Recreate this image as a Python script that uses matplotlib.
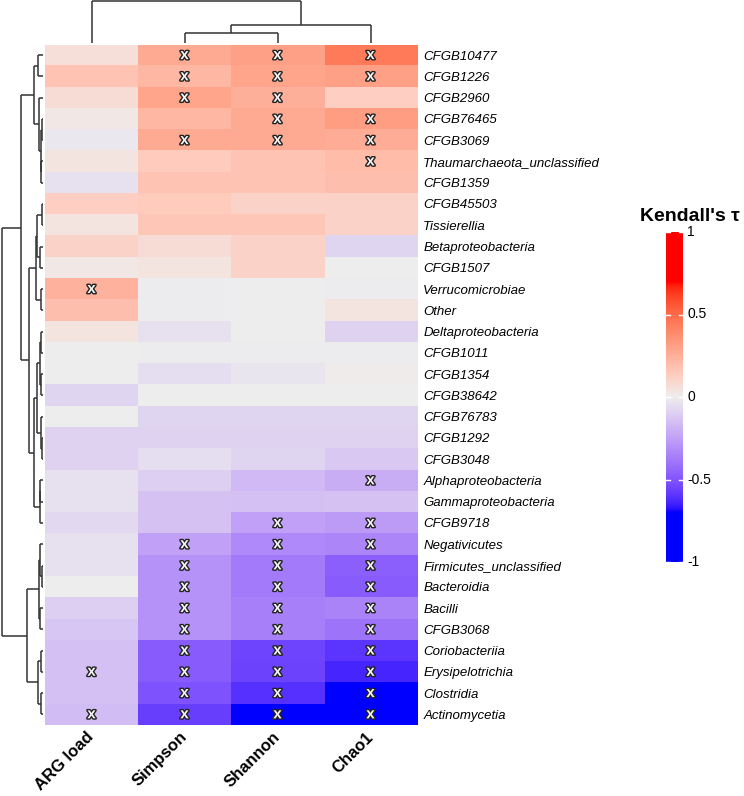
import numpy as np
import matplotlib
matplotlib.use("Agg")
import matplotlib.pyplot as plt
import matplotlib.patheffects as pe
from matplotlib.colors import ListedColormap, Normalize

plt.rcParams['font.family'] = ['Liberation Sans', 'DejaVu Sans']

# ---- data (rows in the drawn, clustered order) ----
taxa = ['CFGB10477', 'CFGB1226', 'CFGB2960', 'CFGB76465', 'CFGB3069',
        'Thaumarchaeota_unclassified', 'CFGB1359', 'CFGB45503', 'Tissierellia',
        'Betaproteobacteria', 'CFGB1507', 'Verrucomicrobiae', 'Other',
        'Deltaproteobacteria', 'CFGB1011', 'CFGB1354', 'CFGB38642', 'CFGB76783',
        'CFGB1292', 'CFGB3048', 'Alphaproteobacteria', 'Gammaproteobacteria',
        'CFGB9718', 'Negativicutes', 'Firmicutes_unclassified', 'Bacteroidia',
        'Bacilli', 'CFGB3068', 'Coriobacteriia', 'Erysipelotrichia',
        'Clostridia', 'Actinomycetia']
metrics = ['ARG load', 'Simpson', 'Shannon', 'Chao1']

arg_load = [0.06, 0.17, 0.07, 0.02, -0.02, 0.04, -0.04, 0.13, 0.04, 0.11, 0.02,
            0.24, 0.19, 0.04, 0.00, 0.00, -0.08, 0.00, -0.09, -0.09, -0.04, -0.04,
            -0.07, -0.04, -0.04, 0.00, -0.10, -0.13, -0.15, -0.15, -0.15, -0.16]
simpson = [0.27, 0.22, 0.29, 0.22, 0.27, 0.14, 0.17, 0.14, 0.16, 0.07, 0.04,
           -0.01, -0.01, -0.04, -0.01, -0.05, 0.00, -0.08, -0.09, -0.05, -0.10, -0.14,
           -0.14, -0.25, -0.30, -0.30, -0.30, -0.30, -0.48, -0.48, -0.51, -0.57]
shannon = [0.31, 0.29, 0.25, 0.27, 0.27, 0.17, 0.17, 0.11, 0.16, 0.11, 0.11,
           0.00, 0.00, 0.00, -0.01, -0.03, 0.00, -0.08, -0.09, -0.08, -0.17, -0.15,
           -0.25, -0.33, -0.38, -0.38, -0.36, -0.36, -0.55, -0.56, -0.61, -0.72]
chao1 = [0.45, 0.31, 0.13, 0.32, 0.26, 0.20, 0.19, 0.11, 0.11, -0.08, 0.00,
         -0.01, 0.04, -0.09, -0.01, 0.01, 0.00, -0.08, -0.09, -0.12, -0.21, -0.14,
         -0.27, -0.34, -0.47, -0.48, -0.35, -0.40, -0.60, -0.64, -0.72, -0.72]

# rows with a significant correlation, per metric
sig_arg = [11, 29, 31]
sig_simpson = [0, 1, 2, 4, 23, 24, 25, 26, 27, 28, 29, 30, 31]
sig_shannon = [0, 1, 2, 3, 4, 22, 23, 24, 25, 26, 27, 28, 29, 30, 31]
sig_chao1 = [0, 1, 3, 4, 5, 20, 22, 23, 24, 25, 26, 27, 28, 29, 30, 31]

# hierarchical clustering merges: [child a, child b, height]; ids >= n are earlier merges
row_merges = [[0, 1, 5], [3, 4, 1.3], [5, 6, 2], [33, 34, 2.3], [2, 35, 4],
              [32, 36, 9], [7, 8, 1], [9, 10, 3], [38, 39, 6], [11, 12, 2.3],
              [40, 41, 7], [13, 14, 2.3], [15, 16, 2], [43, 44, 3], [18, 19, 1.3],
              [17, 46, 2.3], [45, 47, 6], [20, 21, 3], [49, 22, 3.5], [48, 50, 9],
              [42, 51, 14], [37, 52, 22], [24, 25, 1.3], [23, 54, 3], [26, 27, 3],
              [55, 56, 4], [28, 29, 2], [30, 31, 2], [58, 59, 5.5], [57, 60, 16],
              [53, 61, 41]]
col_merges = [[1, 2, 10], [4, 3, 18], [0, 5, 42]]

values = np.array([arg_load, simpson, shannon, chao1]).T
sig = [sig_arg, sig_simpson, sig_shannon, sig_chao1]
n_rows, n_cols = values.shape


# ---- colour ramp blue - #EEEEEE - red interpolated in LAB (like colorRamp2) ----
M = np.array([[0.4124564, 0.3575761, 0.1804375],
              [0.2126729, 0.7151522, 0.0721750],
              [0.0193339, 0.1191920, 0.9503041]])
WHITE = np.array([0.95047, 1.0, 1.08883])


def srgb_to_lab(rgb):
    rgb = np.asarray(rgb, float)
    lin = np.where(rgb <= 0.04045, rgb / 12.92, ((rgb + 0.055) / 1.055) ** 2.4)
    xyz = lin @ M.T / WHITE
    f = np.where(xyz > 0.008856, np.cbrt(xyz), 7.787 * xyz + 16 / 116)
    return np.stack([116 * f[..., 1] - 16, 500 * (f[..., 0] - f[..., 1]),
                     200 * (f[..., 1] - f[..., 2])], -1)


def lab_to_srgb(lab):
    fy = (lab[..., 0] + 16) / 116
    fx = fy + lab[..., 1] / 500
    fz = fy - lab[..., 2] / 200
    f = np.stack([fx, fy, fz], -1)
    xyz = np.where(f ** 3 > 0.008856, f ** 3, (f - 16 / 116) / 7.787) * WHITE
    lin = np.clip(xyz @ np.linalg.inv(M).T, 0, 1)
    rgb = np.where(lin <= 0.0031308, 12.92 * lin, 1.055 * lin ** (1 / 2.4) - 0.055)
    return np.clip(rgb, 0, 1)


lab_blue = srgb_to_lab([0, 0, 1])
lab_mid = srgb_to_lab([0xEE / 255] * 3)
lab_red = srgb_to_lab([1, 0, 0])
tt = np.linspace(-1, 1, 512)[:, None]
lab = np.where(tt < 0, lab_mid + (-tt) * (lab_blue - lab_mid), lab_mid + tt * (lab_red - lab_mid))
cmap = ListedColormap(lab_to_srgb(lab))
norm = Normalize(vmin=-0.7, vmax=0.7)

# ---- figure ----
W, H = 744, 796
fig = plt.figure(figsize=(W / 100, H / 100), dpi=100)


def px_axes(x0, y0, x1, y1):
    return fig.add_axes([x0 / W, 1 - y1 / H, (x1 - x0) / W, (y1 - y0) / H])


HX0, HY0, HX1, HY1 = 45, 44.5, 417, 725

# heatmap
ax = px_axes(HX0, HY0, HX1, HY1)
ax.imshow(values, cmap=cmap, norm=norm, aspect='auto', interpolation='nearest')
for j in range(n_cols):
    for i in sig[j]:
        ax.text(j, i, 'x', ha='center', va='center', fontsize=11, fontweight='bold',
                color='#f4f4f4',
                path_effects=[pe.withStroke(linewidth=2.0, foreground='#222222')])
ax.yaxis.tick_right()
ax.set_yticks(range(n_rows))
ax.set_yticklabels(taxa, fontsize=9.5, style='italic')
ax.set_xticks(range(n_cols))
ax.set_xticklabels(metrics, fontsize=12, fontweight='bold')
plt.setp(ax.get_xticklabels(), rotation=45, ha='right', va='center', rotation_mode='anchor')
ax.tick_params(length=0, pad=4.5)
ax.tick_params(axis='x', pad=7)
for s in ax.spines.values():
    s.set_visible(False)


def draw_dendro(axis, merges, n, orient):
    pos = {i: float(i) for i in range(n)}
    hgt = {i: 0.0 for i in range(n)}
    kw = dict(color='#333333', lw=1.1, solid_capstyle='butt')
    for k, (a, b, h) in enumerate(merges):
        node = n + k
        for c in (a, b):
            if orient == 'left':
                axis.plot([hgt[c], h], [pos[c], pos[c]], **kw)
            else:
                axis.plot([pos[c], pos[c]], [hgt[c], h], **kw)
        if orient == 'left':
            axis.plot([h, h], [pos[a], pos[b]], **kw)
        else:
            axis.plot([pos[a], pos[b]], [h, h], **kw)
        pos[node] = (pos[a] + pos[b]) / 2
        hgt[node] = h
    axis.axis('off')


# row dendrogram (left)
axr = px_axes(0, HY0, HX0, HY1)
draw_dendro(axr, row_merges, n_rows, 'left')
axr.set_xlim(43, -2)
axr.set_ylim(n_rows - 0.5, -0.5)

# column dendrogram (top)
axc = px_axes(HX0, 0, HX1, HY0)
draw_dendro(axc, col_merges, n_cols, 'top')
axc.set_xlim(-0.5, n_cols - 0.5)
axc.set_ylim(-1.5, 43.5)

# colour legend
axl = px_axes(666, 232, 683, 562)
grad = np.linspace(1, -1, 400)[:, None]
axl.imshow(grad, cmap=cmap, norm=norm, aspect='auto', extent=[0, 1, -1, 1])
legend_ticks = [1, 0.5, 0, -0.5, -1]
for t in legend_ticks:
    axl.plot([0, 0.22], [t, t], color='white', lw=1)
    axl.plot([0.78, 1], [t, t], color='white', lw=1)
    axl.text(1.25, t, '%g' % t, fontsize=10, va='center', ha='left', clip_on=False)
axl.set_xlim(0, 1)
axl.set_ylim(-1, 1)
axl.axis('off')
fig.text(640 / W, 1 - 221 / H, "Kendall's τ", fontsize=14, fontweight='bold',
         ha='left', va='baseline')

fig.savefig('out.png', dpi=100)
